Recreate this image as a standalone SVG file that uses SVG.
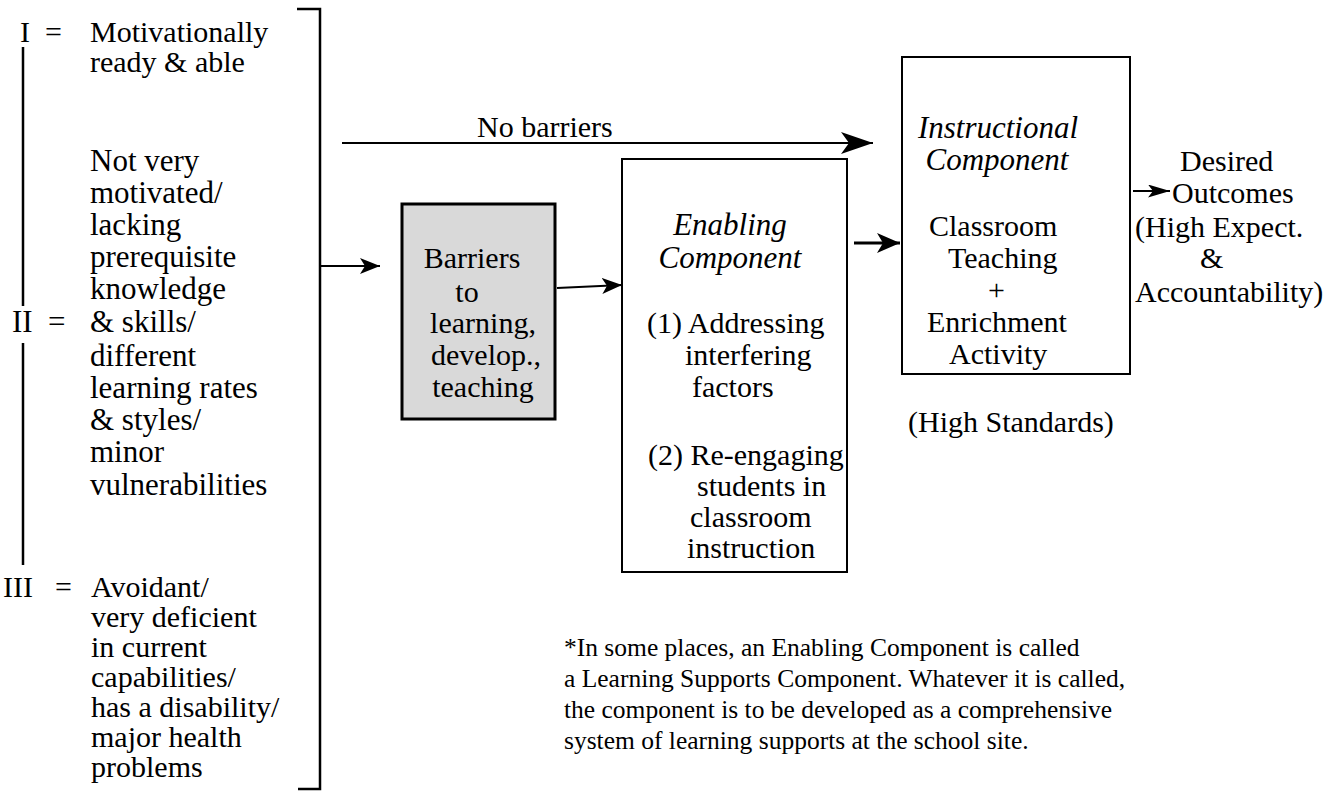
<svg xmlns="http://www.w3.org/2000/svg" width="1335" height="794" viewBox="0 0 1335 794">
<style>
text { font-family: "Liberation Serif", "Times New Roman", serif; font-size: 30px; fill: #000; }
.lv { font-size: 31px; }
.lv3 { font-size: 30px; }
.it { font-style: italic; font-size: 31px; }
.fn { font-size: 25.5px; }
.ln { stroke: #000; stroke-width: 2.5; fill: none; }
.box { fill: #fff; stroke: #000; stroke-width: 2; }
.gbox { fill: #d9d9d9; stroke: #000; stroke-width: 3; }
.conn { stroke: #000; stroke-width: 2; fill: none; }
.thick { stroke-width: 3; }
</style>
<defs>
<marker id="ahBig" viewBox="0 0 32 22" refX="32" refY="11" markerWidth="32" markerHeight="22" markerUnits="userSpaceOnUse" orient="auto"><path d="M0,0 L32,11 L0,22 L8,11 Z" fill="#000"/></marker>
<marker id="ahMed" viewBox="0 0 23 20" refX="23" refY="10" markerWidth="23" markerHeight="20" markerUnits="userSpaceOnUse" orient="auto"><path d="M0,0 L23,10 L0,20 L6,10 Z" fill="#000"/></marker>
<marker id="ahSmall" viewBox="0 0 20 16" refX="20" refY="8" markerWidth="20" markerHeight="16" markerUnits="userSpaceOnUse" orient="auto"><path d="M0,0 L20,8 L0,16 L5,8 Z" fill="#000"/></marker>
<marker id="ahTiny" viewBox="0 0 22 13" refX="22" refY="6.5" markerWidth="22" markerHeight="13" markerUnits="userSpaceOnUse" orient="auto"><path d="M0,0 L22,6.5 L0,13 L5,6.5 Z" fill="#000"/></marker>
</defs>

<g id="levels">
  <text class="lv3" x="20" y="42">I</text><text class="lv3" x="45" y="42">=</text>
  <text class="lv3" x="90" y="42">Motivationally</text>
  <text class="lv3" x="90" y="72">ready &amp; able</text>
  <text class="lv" x="90" y="171">Not very</text>
  <text class="lv" x="90" y="203">motivated/</text>
  <text class="lv" x="90" y="235">lacking</text>
  <text class="lv" x="90" y="267">prerequisite</text>
  <text class="lv" x="90" y="299">knowledge</text>
  <text class="lv" x="12" y="332">II</text><text class="lv" x="48" y="332">=</text>
  <text class="lv" x="90" y="332">&amp; skills/</text>
  <text class="lv" x="90" y="366">different</text>
  <text class="lv" x="90" y="398">learning rates</text>
  <text class="lv" x="90" y="430">&amp; styles/</text>
  <text class="lv" x="90" y="462">minor</text>
  <text class="lv" x="90" y="495">vulnerabilities</text>
  <text class="lv3" x="3" y="597">III</text><text class="lv3" x="55" y="597">=</text>
  <text class="lv3" x="91" y="597">Avoidant/</text>
  <text class="lv3" x="91" y="627">very deficient</text>
  <text class="lv3" x="91" y="657">in current</text>
  <text class="lv3" x="91" y="687">capabilities/</text>
  <text class="lv3" x="91" y="717">has a disability/</text>
  <text class="lv3" x="91" y="747">major health</text>
  <text class="lv3" x="91" y="777">problems</text>
</g>

<g id="bracket">
  <line class="ln" x1="23" y1="47" x2="23" y2="306"/>
  <line class="ln" x1="23" y1="343" x2="23" y2="565"/>
  <polyline class="ln" points="297,9 320,9 320,789 298,789"/>
</g>

<g id="barriers">
  <rect class="gbox" x="402" y="204" width="153" height="215"/>
  <text x="472" y="268" text-anchor="middle">Barriers</text>
  <text x="467" y="302" text-anchor="middle">to</text>
  <text x="483" y="333" text-anchor="middle">learning,</text>
  <text x="486" y="365" text-anchor="middle">develop.,</text>
  <text x="483" y="397" text-anchor="middle">teaching</text>
</g>

<g id="enabling">
  <rect class="box" x="622" y="159" width="225" height="413"/>
  <text class="it" x="730" y="235" text-anchor="middle">Enabling</text>
  <text class="it" x="730" y="268" text-anchor="middle">Component</text>
  <text x="647" y="333">(1) Addressing</text>
  <text x="685" y="365">interfering</text>
  <text x="692" y="397">factors</text>
  <text x="648" y="465">(2) Re-engaging</text>
  <text x="697" y="496">students in</text>
  <text x="690" y="527">classroom</text>
  <text x="687" y="558">instruction</text>
</g>

<g id="instructional">
  <rect class="box" x="902" y="57" width="228" height="317"/>
  <text class="it" x="998" y="138" text-anchor="middle">Instructional</text>
  <text class="it" x="997" y="170" text-anchor="middle">Component</text>
  <text x="929" y="236">Classroom</text>
  <text x="948" y="268">Teaching</text>
  <text x="988" y="300">+</text>
  <text x="927" y="332">Enrichment</text>
  <text x="949" y="364">Activity</text>
  <text x="908" y="432">(High Standards)</text>
</g>

<g id="outcomes">
  <text x="1180" y="171">Desired</text>
  <text x="1172" y="203">Outcomes</text>
  <text x="1135" y="237">(High Expect.</text>
  <text x="1200" y="268">&amp;</text>
  <text x="1135" y="302">Accountability)</text>
</g>

<g id="connectors">
  <line class="conn" x1="342" y1="143" x2="873" y2="143" marker-end="url(#ahBig)"/>
  <text x="477" y="137">No barriers</text>
  <line class="conn" x1="320" y1="266" x2="380" y2="266" marker-end="url(#ahSmall)"/>
  <line class="conn" x1="557" y1="288" x2="622" y2="285" marker-end="url(#ahSmall)"/>
  <line class="conn thick" x1="854" y1="243" x2="900" y2="243" marker-end="url(#ahMed)"/>
  <line class="conn" x1="1133" y1="191" x2="1170" y2="191" marker-end="url(#ahTiny)"/>
</g>

<g id="footnote">
  <text class="fn" x="564" y="656">*In some places, an Enabling Component is called</text>
  <text class="fn" x="564" y="687">a Learning Supports Component. Whatever it is called,</text>
  <text class="fn" x="564" y="718">the component is to be developed as a comprehensive</text>
  <text class="fn" x="564" y="749">system of learning supports at the school site.</text>
</g>
</svg>
